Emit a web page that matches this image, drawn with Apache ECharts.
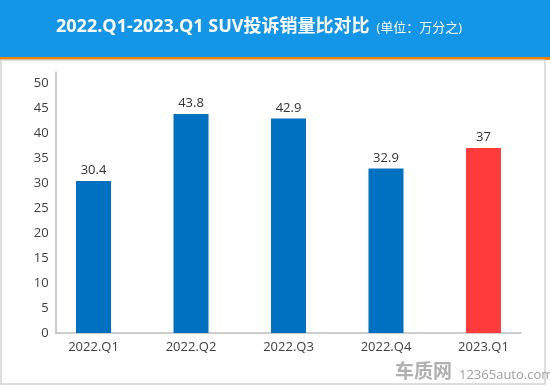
<!DOCTYPE html>
<html>
<head>
<meta charset="utf-8">
<script src="https://cdn.jsdelivr.net/npm/echarts@6/dist/echarts.min.js"></script>
<style>html,body{margin:0;padding:0;background:#fff}#c{width:550px;height:386px}</style>
</head>
<body>
<div id="c"></div>
<script>
var categories = ['2022.Q1', '2022.Q2', '2022.Q3', '2022.Q4', '2023.Q1'];
var values = [30.4, 43.8, 42.9, 32.9, 37];
var yTicks = [0, 5, 10, 15, 20, 25, 30, 35, 40, 45, 50];

var font = '"Open Sans","Noto Sans CJK SC",sans-serif';
var chart = echarts.init(document.getElementById('c'), null, {renderer: 'canvas'});
var lastIdx = values.length - 1;
chart.setOption({
  animation: false,
  backgroundColor: '#fff',
  graphic: [
    {type: 'rect', shape: {x: 0, y: 0, width: 550, height: 57}, style: {fill: '#1395e8'}, z: 0},
    {type: 'rect', shape: {x: 0, y: 57, width: 550, height: 3}, style: {fill: '#f08300'}, z: 0},
    {type: 'rect', shape: {x: 1, y: 60, width: 544, height: 324}, style: {fill: 'none', stroke: '#d2d2d2', lineWidth: 1.5}, z: 0},
    {type: 'text', left: 395, top: 361, style: {text: '车质网', font: 'bold 19px "Noto Sans CJK SC",sans-serif', fill: '#b0b0b0'}, z: 10},
    {type: 'text', left: 459, top: 369, style: {text: '12365auto.com', font: '13px "Open Sans",sans-serif', fill: '#a0a0a0'}, z: 10}
  ],
  title: {
    left: 56, top: 18, padding: 0,
    text: '{a|2022.Q1-2023.Q1 SUV投诉销量比对比} {b|(单位：万分之)}',
    textStyle: {
      rich: {
        a: {fontSize: 18, fontWeight: 'bold', color: '#fff', fontFamily: font},
        b: {fontSize: 13, fontWeight: 'normal', color: '#fff', fontFamily: font, padding: [2, 0, 0, 2]}
      }
    }
  },
  grid: {left: 55.7, right: 29, top: 72, bottom: 53},
  xAxis: {
    type: 'value',
    min: -0.388, max: 4.385,
    axisLine: {show: true, onZero: false, lineStyle: {color: '#bdbdbd', width: 1.5}},
    axisTick: {show: false},
    splitLine: {show: false},
    axisLabel: {
      customValues: categories.map(function (c, i) { return i; }),
      formatter: function (v) { return categories[Math.round(v)]; },
      color: '#404040', fontSize: 13, fontFamily: font, margin: 8
    }
  },
  yAxis: {
    type: 'value',
    min: 0, max: 52.2, interval: 5,
    axisLine: {show: true, onZero: false, lineStyle: {color: '#bdbdbd', width: 1.5}},
    axisTick: {show: false},
    splitLine: {show: false},
    axisLabel: {
      customValues: yTicks,
      formatter: function (v) { return yTicks.indexOf(v) >= 0 ? String(v) : ''; },
      color: '#404040', fontSize: 13, fontFamily: font, margin: 7
    }
  },
  series: [{
    type: 'bar',
    barWidth: 35,
    data: values.map(function (v, i) { return [i, v]; }),
    itemStyle: {
      color: function (p) { return p.dataIndex === lastIdx ? '#ff3b3b' : '#0070c0'; }
    },
    label: {
      show: true, position: 'top', distance: 4,
      formatter: function (p) { return String(p.value[1]); },
      color: '#333', fontSize: 13, fontFamily: font
    }
  }]
});
</script>
</body>
</html>
